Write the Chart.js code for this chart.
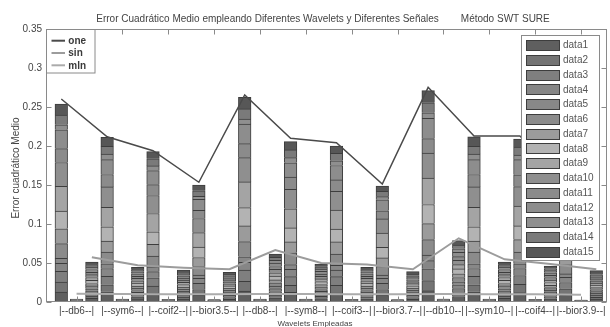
<!DOCTYPE html>
<html>
<head>
<meta charset="utf-8">
<script src="https://cdn.jsdelivr.net/npm/chart.js@4.4.1/dist/chart.umd.min.js"></script>
<style>
  html, body { margin: 0; padding: 0; background: #fff; }
  #wrap { width: 610px; height: 327px; }
</style>
</head>
<body>
<div id="wrap"><canvas id="c" width="610" height="327"></canvas></div>
<script>
// Wavelets compared (one group of three bars each)
const wavelets = ['|--db6--|', '|--sym6--|', '|--coif2--|', '|--bior3.5--|', '|--db8--|', '|--sym8--|',
                  '|--coif3--|', '|--bior3.7--|', '|--db10--|', '|--sym10--|', '|--coif4--|', '|--bior3.9--|'];
const seriesNames = ['data1', 'data2', 'data3', 'data4', 'data5', 'data6', 'data7', 'data8',
                     'data9', 'data10', 'data11', 'data12', 'data13', 'data14', 'data15'];
const signalNames = ['one', 'sin', 'mln'];

// Stacked components (data1..data15) per wavelet, signal "one"
const oneParts = [
  [0.0127, 0.0127, 0.0140, 0.0102, 0.0063, 0.0190, 0.0190, 0.0228, 0.0317, 0.0305, 0.0178, 0.0241, 0.0063, 0.0127, 0.0140],
  [0.0130, 0.0090, 0.0110, 0.0100, 0.0060, 0.0150, 0.0140, 0.0185, 0.0250, 0.0260, 0.0160, 0.0190, 0.0070, 0.0100, 0.0117],
  [0.0110, 0.0095, 0.0105, 0.0080, 0.0060, 0.0140, 0.0150, 0.0160, 0.0235, 0.0230, 0.0140, 0.0180, 0.0060, 0.0090, 0.0092],
  [0.0085, 0.0075, 0.0080, 0.0065, 0.0040, 0.0110, 0.0115, 0.0135, 0.0185, 0.0180, 0.0105, 0.0140, 0.0040, 0.0070, 0.0075],
  [0.0140, 0.0125, 0.0145, 0.0100, 0.0070, 0.0195, 0.0200, 0.0235, 0.0330, 0.0310, 0.0180, 0.0250, 0.0065, 0.0130, 0.0149],
  [0.0125, 0.0090, 0.0110, 0.0095, 0.0060, 0.0150, 0.0140, 0.0180, 0.0245, 0.0250, 0.0155, 0.0185, 0.0065, 0.0100, 0.0106],
  [0.0115, 0.0100, 0.0110, 0.0085, 0.0060, 0.0145, 0.0155, 0.0165, 0.0245, 0.0240, 0.0145, 0.0185, 0.0060, 0.0095, 0.0095],
  [0.0085, 0.0075, 0.0080, 0.0065, 0.0040, 0.0110, 0.0110, 0.0135, 0.0185, 0.0180, 0.0105, 0.0140, 0.0040, 0.0070, 0.0067],
  [0.0145, 0.0130, 0.0150, 0.0105, 0.0070, 0.0200, 0.0205, 0.0245, 0.0340, 0.0320, 0.0185, 0.0260, 0.0070, 0.0130, 0.0154],
  [0.0130, 0.0090, 0.0110, 0.0100, 0.0060, 0.0150, 0.0140, 0.0185, 0.0250, 0.0260, 0.0160, 0.0190, 0.0070, 0.0100, 0.0124],
  [0.0120, 0.0105, 0.0115, 0.0090, 0.0060, 0.0150, 0.0160, 0.0175, 0.0255, 0.0250, 0.0150, 0.0195, 0.0060, 0.0100, 0.0105],
  [0.0090, 0.0080, 0.0080, 0.0065, 0.0045, 0.0115, 0.0115, 0.0140, 0.0190, 0.0185, 0.0110, 0.0145, 0.0040, 0.0070, 0.0080]
];

// Stacked components per wavelet, signal "mln"
const mlnParts = [
  [0.0003, 0.0002, 0.0003, 0.0002, 0.0002, 0.0003, 0.0002, 0.0003, 0.0002, 0.0002, 0.0003, 0.0002, 0.0002, 0.0003, 0.0002],
  [0.0003, 0.0002, 0.0003, 0.0002, 0.0002, 0.0003, 0.0002, 0.0003, 0.0002, 0.0002, 0.0003, 0.0002, 0.0002, 0.0003, 0.0002],
  [0.0003, 0.0002, 0.0002, 0.0002, 0.0002, 0.0003, 0.0002, 0.0003, 0.0002, 0.0002, 0.0003, 0.0002, 0.0002, 0.0003, 0.0002],
  [0.0002, 0.0002, 0.0002, 0.0002, 0.0002, 0.0002, 0.0002, 0.0002, 0.0002, 0.0002, 0.0002, 0.0002, 0.0002, 0.0002, 0.0002],
  [0.0003, 0.0002, 0.0003, 0.0002, 0.0002, 0.0003, 0.0002, 0.0003, 0.0002, 0.0002, 0.0003, 0.0002, 0.0002, 0.0003, 0.0002],
  [0.0003, 0.0002, 0.0003, 0.0002, 0.0002, 0.0003, 0.0002, 0.0003, 0.0002, 0.0002, 0.0003, 0.0002, 0.0002, 0.0003, 0.0002],
  [0.0003, 0.0002, 0.0002, 0.0002, 0.0002, 0.0003, 0.0002, 0.0003, 0.0002, 0.0002, 0.0003, 0.0002, 0.0002, 0.0003, 0.0002],
  [0.0002, 0.0002, 0.0002, 0.0002, 0.0002, 0.0002, 0.0002, 0.0002, 0.0002, 0.0002, 0.0002, 0.0002, 0.0002, 0.0002, 0.0002],
  [0.0003, 0.0002, 0.0003, 0.0002, 0.0002, 0.0003, 0.0002, 0.0003, 0.0003, 0.0002, 0.0003, 0.0002, 0.0002, 0.0003, 0.0002],
  [0.0003, 0.0002, 0.0003, 0.0002, 0.0002, 0.0003, 0.0002, 0.0003, 0.0002, 0.0002, 0.0003, 0.0002, 0.0002, 0.0003, 0.0002],
  [0.0003, 0.0002, 0.0002, 0.0002, 0.0002, 0.0003, 0.0002, 0.0003, 0.0002, 0.0002, 0.0003, 0.0002, 0.0002, 0.0003, 0.0002],
  [0.0002, 0.0001, 0.0002, 0.0001, 0.0001, 0.0002, 0.0002, 0.0002, 0.0001, 0.0002, 0.0002, 0.0001, 0.0002, 0.0002, 0.0001]
];

// Stacked components per wavelet, signal "sin"
const sinParts = [
  [0.0046, 0.0031, 0.0036, 0.0031, 0.0026, 0.0036, 0.0031, 0.0041, 0.0036, 0.0036, 0.0031, 0.0036, 0.0031, 0.0031, 0.0034],
  [0.0040, 0.0027, 0.0031, 0.0027, 0.0022, 0.0031, 0.0027, 0.0036, 0.0031, 0.0031, 0.0027, 0.0031, 0.0027, 0.0027, 0.0029],
  [0.0037, 0.0025, 0.0029, 0.0025, 0.0020, 0.0029, 0.0025, 0.0033, 0.0029, 0.0029, 0.0025, 0.0029, 0.0025, 0.0025, 0.0025],
  [0.0034, 0.0023, 0.0027, 0.0023, 0.0019, 0.0027, 0.0023, 0.0030, 0.0027, 0.0027, 0.0023, 0.0027, 0.0023, 0.0023, 0.0024],
  [0.0055, 0.0037, 0.0043, 0.0037, 0.0031, 0.0043, 0.0037, 0.0049, 0.0043, 0.0043, 0.0037, 0.0043, 0.0037, 0.0037, 0.0043],
  [0.0044, 0.0029, 0.0034, 0.0029, 0.0024, 0.0034, 0.0029, 0.0039, 0.0034, 0.0034, 0.0029, 0.0034, 0.0029, 0.0029, 0.0036],
  [0.0041, 0.0026, 0.0031, 0.0028, 0.0022, 0.0030, 0.0027, 0.0036, 0.0032, 0.0030, 0.0027, 0.0031, 0.0027, 0.0027, 0.0029],
  [0.0035, 0.0023, 0.0027, 0.0023, 0.0019, 0.0027, 0.0023, 0.0031, 0.0027, 0.0027, 0.0023, 0.0027, 0.0023, 0.0023, 0.0031],
  [0.0071, 0.0047, 0.0055, 0.0047, 0.0039, 0.0055, 0.0047, 0.0063, 0.0055, 0.0055, 0.0047, 0.0055, 0.0047, 0.0047, 0.0056],
  [0.0046, 0.0031, 0.0036, 0.0031, 0.0026, 0.0036, 0.0031, 0.0041, 0.0036, 0.0036, 0.0031, 0.0036, 0.0031, 0.0031, 0.0034],
  [0.0042, 0.0028, 0.0032, 0.0028, 0.0023, 0.0032, 0.0028, 0.0037, 0.0032, 0.0032, 0.0028, 0.0032, 0.0028, 0.0028, 0.0032],
  [0.0036, 0.0024, 0.0028, 0.0024, 0.0020, 0.0028, 0.0024, 0.0032, 0.0028, 0.0028, 0.0024, 0.0028, 0.0024, 0.0024, 0.0030]
];

// Mean squared error traced per signal across the wavelets
const oneLine = [0.2603, 0.2119, 0.1940, 0.1535, 0.2654, 0.2098, 0.2043, 0.1513, 0.2752, 0.2128, 0.2128, 0.1560];
const sinLine = [0.0573, 0.0470, 0.0440, 0.0420, 0.0667, 0.0500, 0.0480, 0.0420, 0.0817, 0.0547, 0.0487, 0.0420];
const mlnLine = [0.0105, 0.0102, 0.0100, 0.0100, 0.0104, 0.0101, 0.0100, 0.0098, 0.0104, 0.0100, 0.0098, 0.0092];

const yTickLabels = ['0', '0.05', '0.1', '0.15', '0.2', '0.25', '0.3', '0.35'];

// Styling
const seriesGrays = ['#5f5f5f', '#747474', '#7f7f7f', '#868686', '#888888', '#8b8b8b', '#9b9b9b', '#b3b3b3',
                     '#a4a4a4', '#8f8f8f', '#8b8b8b', '#8d8d8d', '#8f8f8f', '#7a7a7a', '#575757'];
const signalColors = { one: '#4a4a4a', sin: '#9c9c9c', mln: '#ababab' };
const FONT = '"Liberation Sans", Arial, sans-serif';
const TEXT = '#444';

Chart.defaults.font.family = FONT;
Chart.defaults.font.size = 10;
Chart.defaults.color = TEXT;

// Each wavelet occupies three slots: one, mln, sin
const barSets = seriesNames.map((name, k) => {
  const data = [];
  wavelets.forEach((w, g) => {
    data.push({ x: 3 * g + 1, y: oneParts[g][k] });
    data.push({ x: 3 * g + 2, y: mlnParts[g][k] });
    data.push({ x: 3 * g + 3, y: sinParts[g][k] });
  });
  return {
    type: 'bar', label: name, data,
    backgroundColor: seriesGrays[k], borderColor: '#3d3d3d', borderWidth: 1,
    borderSkipped: 'start', barThickness: 12.6, order: 1,
    xAxisID: 'x', yAxisID: 'y'
  };
});

const lineSet = (label, vals, slot, width) => ({
  type: 'line', label,
  data: vals.map((v, g) => ({ x: 3 * g + slot, y: v })),
  borderColor: signalColors[label], borderWidth: width,
  pointRadius: 0, fill: false, tension: 0, order: 0,
  xAxisID: 'x', yAxisID: 'yL'
});

const lineSets = [
  lineSet('one', oneLine, 1, 1.5),
  lineSet('sin', sinLine, 3, 2),
  lineSet('mln', mlnLine, 2, 2)
];

const decor = {
  id: 'decor',
  afterDatasetsDraw(chart) {
    const { ctx, chartArea: a, scales } = chart;
    const L = Math.round(a.left) + 0.5, R = Math.round(a.right) - 0.5;
    const T = Math.round(a.top) + 0.5, B = Math.round(a.bottom) - 0.5;
    ctx.save();
    ctx.strokeStyle = '#8a8a8a';
    ctx.lineWidth = 1;
    ctx.strokeRect(L, T, R - L, B - T);
    ctx.beginPath();
    scales.y.ticks.forEach(t => {
      const y = Math.round(scales.y.getPixelForValue(t.value)) + 0.5;
      ctx.moveTo(L, y); ctx.lineTo(L + 5, y);
      ctx.moveTo(R, y); ctx.lineTo(R - 5, y);
    });
    scales.x.ticks.forEach(t => {
      const x = Math.round(scales.x.getPixelForValue(t.value)) + 0.5;
      ctx.moveTo(x, T); ctx.lineTo(x, T + 5);
      ctx.moveTo(x, B); ctx.lineTo(x, B - 5);
    });
    ctx.stroke();
    ctx.restore();
  },
  afterDraw(chart) {
    const { ctx } = chart;
    ctx.save();
    ctx.fillStyle = TEXT;

    // Title
    ctx.font = '10px ' + FONT;
    ctx.textBaseline = 'alphabetic';
    ctx.textAlign = 'left';
    const t1 = 'Error Cuadrático Medio empleando Diferentes Wavelets y Diferentes Señales';
    const t2 = 'Método SWT SURE';
    const gap = 22;
    const w1 = ctx.measureText(t1).width, w2 = ctx.measureText(t2).width;
    const tx = 323 - (w1 + gap + w2) / 2;
    ctx.fillText(t1, tx, 21.5);
    ctx.fillText(t2, tx + w1 + gap, 21.5);

    // Axis titles
    ctx.textAlign = 'center';
    ctx.textBaseline = 'middle';
    ctx.font = '8px ' + FONT;
    ctx.fillText('Wavelets Empleadas', 315, 323.5);
    ctx.save();
    ctx.translate(16, 168);
    ctx.rotate(-Math.PI / 2);
    ctx.font = '10px ' + FONT;
    ctx.fillText('Error cuadrático Medio', 0, 0);
    ctx.restore();

    // Signal legend (top left)
    ctx.fillStyle = '#fff';
    ctx.strokeStyle = '#8a8a8a';
    ctx.lineWidth = 1;
    ctx.fillRect(46.5, 29.5, 48.5, 43.5);
    ctx.strokeRect(46.5, 29.5, 48.5, 43.5);
    ctx.font = 'bold 10px ' + FONT;
    ctx.textAlign = 'left';
    lineSets.forEach((ds, i) => {
      const y = 40.7 + i * 12.3;
      ctx.strokeStyle = ds.borderColor;
      ctx.lineWidth = 2;
      ctx.beginPath();
      ctx.moveTo(51.5, y); ctx.lineTo(65, y);
      ctx.stroke();
      ctx.fillStyle = '#3a3a3a';
      ctx.fillText(ds.label, 68.3, y + 0.5);
    });

    // Component legend (right)
    ctx.fillStyle = '#fff';
    ctx.strokeStyle = '#8a8a8a';
    ctx.lineWidth = 1;
    ctx.fillRect(521.5, 35.5, 78, 225);
    ctx.strokeRect(521.5, 35.5, 78, 225);
    ctx.font = '10px ' + FONT;
    barSets.forEach((ds, i) => {
      const y = 45 + i * 14.76;
      ctx.fillStyle = ds.backgroundColor;
      ctx.fillRect(526.5, Math.round(y - 5) + 0.5, 33, 10);
      ctx.strokeStyle = '#3d3d3d';
      ctx.strokeRect(526.5, Math.round(y - 5) + 0.5, 33, 10);
      ctx.fillStyle = '#555';
      ctx.fillText(ds.label, 563, y + 0.5);
    });
    ctx.restore();
  }
};

new Chart(document.getElementById('c'), {
  type: 'bar',
  data: { datasets: [...lineSets, ...barSets] },
  options: {
    responsive: false,
    animation: false,
    events: [],
    layout: { padding: { left: 0, top: 29, right: 3, bottom: 0 } },
    plugins: { legend: { display: false }, tooltip: { enabled: false }, title: { display: false } },
    scales: {
      x: {
        type: 'linear', min: 0, max: 36.7, offset: false, stacked: true,
        grid: { display: false, drawTicks: false }, border: { display: false },
        afterBuildTicks: s => { s.ticks = wavelets.map((w, g) => ({ value: 3 * g + 2 })); },
        ticks: {
          autoSkip: false, maxRotation: 0, minRotation: 0, padding: 3, color: TEXT,
          font: { size: 10 }, callback: (v, i) => wavelets[i]
        },
        afterFit: s => { s.height = 25; }
      },
      y: {
        type: 'linear', min: 0, max: 0.35, stacked: true,
        grid: { display: false, drawTicks: false }, border: { display: false },
        ticks: { stepSize: 0.05, padding: 4, color: TEXT, font: { size: 10 }, callback: (v, i) => yTickLabels[i] },
        afterFit: s => { s.width = 46; }
      },
      yL: { type: 'linear', display: false, min: 0, max: 0.35 }
    }
  },
  plugins: [decor]
});
</script>
</body>
</html>
